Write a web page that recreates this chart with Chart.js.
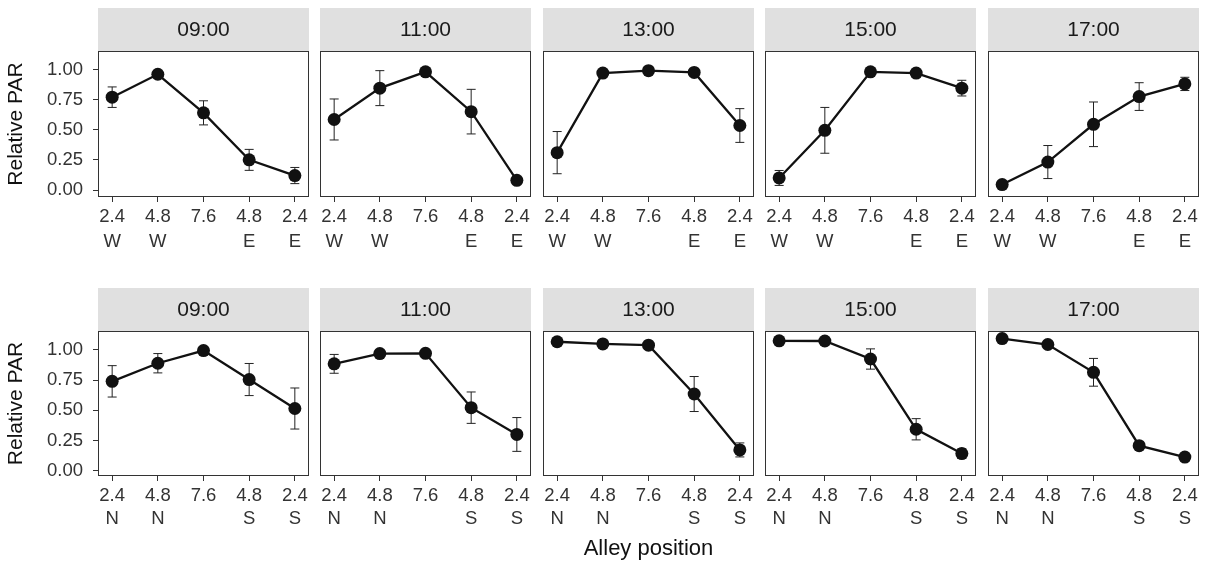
<!DOCTYPE html>
<html><head><meta charset="utf-8">
<script src="https://cdn.jsdelivr.net/npm/chart.js@4.4.1/dist/chart.umd.min.js"></script>
<style>
html,body{margin:0;padding:0;background:#fff;}
body{width:1211px;height:564px;position:relative;overflow:hidden;}
canvas.pc{position:absolute;}
</style></head><body>
<script>
// ---------- data ----------
const times = ['09:00', '11:00', '13:00', '15:00', '17:00'];
const distLabels = ['2.4', '4.8', '7.6', '4.8', '2.4'];
const ewSides = ['W', 'W', '', 'E', 'E'];
const nsSides = ['N', 'N', '', 'S', 'S'];
const yTicks = [0, 0.25, 0.5, 0.75, 1.0];
const yAxisTitle = 'Relative PAR';
const xAxisTitle = 'Alley position';

// East-West alley (top row)
const ew0900 = [0.77, 0.96, 0.64, 0.25, 0.12];
const ew0900Err = [0.085, 0.02, 0.10, 0.087, 0.067];
const ew1100 = [0.585, 0.845, 0.98, 0.65, 0.08];
const ew1100Err = [0.17, 0.145, 0.02, 0.185, 0.02];
const ew1300 = [0.31, 0.97, 0.99, 0.975, 0.535];
const ew1300Err = [0.175, 0.02, 0.02, 0.02, 0.14];
const ew1500 = [0.10, 0.495, 0.98, 0.97, 0.845];
const ew1500Err = [0.062, 0.19, 0.02, 0.02, 0.065];
const ew1700 = [0.045, 0.232, 0.545, 0.775, 0.88];
const ew1700Err = [0.02, 0.137, 0.185, 0.115, 0.055];

// North-South alley (bottom row)
const ns0900 = [0.74, 0.89, 0.995, 0.755, 0.515];
const ns0900Err = [0.13, 0.08, 0.02, 0.133, 0.17];
const ns1100 = [0.885, 0.97, 0.972, 0.522, 0.30];
const ns1100Err = [0.078, 0.02, 0.02, 0.13, 0.14];
const ns1300 = [1.068, 1.05, 1.04, 0.635, 0.172];
const ns1300Err = [0.02, 0.02, 0.02, 0.145, 0.058];
const ns1500 = [1.076, 1.074, 0.925, 0.343, 0.142];
const ns1500Err = [0.02, 0.02, 0.084, 0.088, 0.04];
const ns1700 = [1.094, 1.045, 0.815, 0.207, 0.113];
const ns1700Err = [0.02, 0.02, 0.115, 0.02, 0.02];

// ---------- layout ----------
const FONT = "'Liberation Sans', Arial, Helvetica, sans-serif";
Chart.defaults.font.family = FONT;
const panelLefts = [98, 320, 543, 765, 988];
const panelW = 211;
const STRIP_H = 43;
const SIDE = 12;
const YAXIS_W = 98;

const rows = [
  { top: 8, means: [ew0900, ew1100, ew1300, ew1500, ew1700],
    errs: [ew0900Err, ew1100Err, ew1300Err, ew1500Err, ew1700Err],
    sides: ewSides, yMin: -0.058, yMax: 1.153, areaH: 146, axisH: 63, lh: 1.35, pad: 2.5 },
  { top: 288, means: [ns0900, ns1100, ns1300, ns1500, ns1700],
    errs: [ns0900Err, ns1100Err, ns1300Err, ns1500Err, ns1700Err],
    sides: nsSides, yMin: -0.044, yMax: 1.157, areaH: 145, axisH: 88, lh: 1.22, pad: 4 }
];

const framePlugin = {
  id: 'frame',
  afterDatasetsDraw(chart) {
    const { ctx, chartArea: a } = chart;
    ctx.save();
    ctx.strokeStyle = '#333';
    ctx.lineWidth = 1;
    ctx.strokeRect(a.left + 0.5, a.top + 0.5, a.right - a.left - 1, a.bottom - a.top - 1);
    ctx.restore();
  }
};

const stripPlugin = {
  id: 'strip',
  beforeDraw(chart, args, opts) {
    const { ctx, chartArea: a } = chart;
    ctx.save();
    ctx.fillStyle = '#e0e0e0';
    ctx.fillRect(a.left, a.top - STRIP_H, a.right - a.left, STRIP_H);
    ctx.fillStyle = '#1a1a1a';
    ctx.font = '21px ' + FONT;
    ctx.textAlign = 'center';
    ctx.textBaseline = 'middle';
    ctx.fillText(opts.text, (a.left + a.right) / 2, a.top - STRIP_H / 2 + 1);
    ctx.restore();
  }
};

const errPlugin = {
  id: 'errbars',
  beforeDatasetsDraw(chart, args, opts) {
    const { ctx } = chart;
    const xs = chart.scales.x, ys = chart.scales.y;
    const data = chart.data.datasets[0].data;
    ctx.save();
    ctx.strokeStyle = '#222';
    ctx.lineWidth = 1;
    data.forEach((p, i) => {
      const e = opts.errors[i];
      const x = xs.getPixelForValue(p.x);
      const y1 = ys.getPixelForValue(p.y + e);
      const y2 = ys.getPixelForValue(p.y - e);
      ctx.beginPath();
      ctx.moveTo(x, y1); ctx.lineTo(x, y2);
      ctx.moveTo(x - 4.5, y1); ctx.lineTo(x + 4.5, y1);
      ctx.moveTo(x - 4.5, y2); ctx.lineTo(x + 4.5, y2);
      ctx.stroke();
    });
    ctx.restore();
  }
};

rows.forEach((row, r) => {
  times.forEach((t, c) => {
    const first = c === 0;
    const cv = document.createElement('canvas');
    cv.className = 'pc';
    const left = first ? 0 : panelLefts[c] - SIDE;
    const width = first ? YAXIS_W + panelW + SIDE : panelW + 2 * SIDE;
    const height = STRIP_H + row.areaH + row.axisH;
    cv.width = width; cv.height = height;
    cv.style.left = left + 'px'; cv.style.top = row.top + 'px';
    cv.style.width = width + 'px'; cv.style.height = height + 'px';
    document.body.appendChild(cv);

    const showXTitle = (r === 1 && c === 2);
    new Chart(cv, {
      type: 'line',
      data: {
        datasets: [{
          data: row.means[c].map((v, i) => ({ x: i, y: v })),
          borderColor: '#111',
          borderWidth: 2.3,
          backgroundColor: '#111',
          pointRadius: 6.5,
          pointBorderWidth: 0,
          pointBackgroundColor: '#111',
          tension: 0,
          clip: false
        }]
      },
      options: {
        responsive: false,
        animation: false,
        events: [],
        layout: { padding: { left: first ? 0 : SIDE, right: SIDE, top: STRIP_H, bottom: 0 } },
        plugins: {
          legend: { display: false },
          tooltip: { enabled: false },
          strip: { text: t },
          errbars: { errors: row.errs[c] }
        },
        scales: {
          x: {
            type: 'linear',
            min: -0.31, max: 4.31,
            afterBuildTicks: s => { s.ticks = distLabels.map((_, i) => ({ value: i })); },
            afterFit: s => { s.height = row.axisH; },
            grid: { display: true, drawOnChartArea: false, drawTicks: true, tickLength: 5, color: '#333', lineWidth: 1 },
            border: { display: false },
            ticks: {
              autoSkip: false, maxRotation: 0, minRotation: 0,
              padding: row.pad,
              color: '#333',
              font: { size: 18.5, lineHeight: row.lh },
              callback: v => [distLabels[v], row.sides[v]]
            },
            title: {
              display: showXTitle, text: xAxisTitle, color: '#111',
              font: { size: 22 }, padding: { top: 0, bottom: 2 }
            }
          },
          y: {
            display: first,
            min: row.yMin, max: row.yMax,
            afterBuildTicks: s => { s.ticks = yTicks.map(v => ({ value: v })); },
            afterFit: s => { s.width = first ? YAXIS_W : 0; },
            grid: { display: true, drawOnChartArea: false, drawTicks: true, tickLength: 5, color: '#333', lineWidth: 1 },
            border: { display: false },
            ticks: { padding: 10, color: '#333', font: { size: 18.5 }, callback: v => v.toFixed(2) },
            title: { display: first, text: yAxisTitle, color: '#111', font: { size: 21 }, padding: { top: 4, bottom: 0 } }
          }
        }
      },
      plugins: [stripPlugin, errPlugin, framePlugin]
    });
  });
});
</script>
</body></html>
